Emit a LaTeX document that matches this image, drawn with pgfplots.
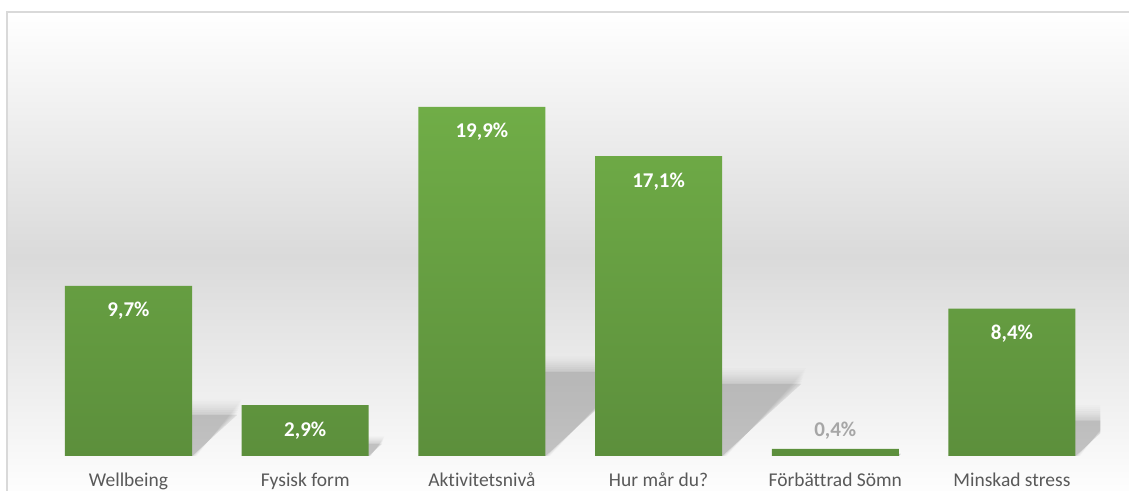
\documentclass[border=0pt]{standalone}
\usepackage{pgfplots}
\pgfplotsset{compat=1.18}
\usepackage{pgfplotstable}
\usepackage{fontspec}
\setmainfont{Carlito}[Ligatures={NoCommon}]
\definecolor{barTop}{HTML}{70AD47}
\definecolor{barBot}{HTML}{5C8F3C}
\definecolor{lblGray}{HTML}{595959}
\definecolor{valGray}{HTML}{A6A6A6}
\definecolor{frameGray}{HTML}{D9D9D9}
\definecolor{bgMid}{HTML}{DADADA}

\pgfplotstableread{
x y
0 9.7
1 2.9
2 19.9
3 17.1
4 0.4
5 8.4
}\datatable

\newcommand\vallabel[1]{\pgfmathprintnumber[fixed,precision=1,fixed zerofill,use comma,assume math mode=true]{#1}\%}

\begin{document}
\begin{tikzpicture}[x=1bp,y=1bp]
\shade[top color=white, bottom color=white, middle color=bgMid] (7,-10) rectangle (1140,479);
\draw[frameGray, line width=1.5bp] (7,-10) -- (7,479) -- (1140,479);
\begin{axis}[
  at={(40.15bp,35bp)}, anchor=south west,
  scale only axis, width=1060.2bp, height=438.5bp,
  xmin=-0.5, xmax=5.5, ymin=0, ymax=25,
  axis line style={draw=none},
  major tick length=0pt,
  ytick=\empty,
  xtick=data,
  xticklabels={Wellbeing, Fysisk form, Aktivitetsnivå, Hur mår du?, Förbättrad Sömn, Minskad stress},
  xticklabel style={anchor=base, yshift=-31bp, inner sep=0pt, font=\fontsize{19.5bp}{23bp}\selectfont, text=lblGray},
]
\pgfplotsinvokeforeach{0,...,5}{
  \pgfplotsextra{%
    \pgfplotstablegetelem{#1}{y}\of\datatable
    \let\vv\pgfplotsretval
    \pgfmathsetmacro\pxA{#1-0.3595}
    \pgfmathsetmacro\sc{min(1,\vv/6)}
    \foreach \g/\op in {0.9/0.012, 0.78/0.014, 0.66/0.016, 0.54/0.018, 0.42/0.02, 0.3/0.022, 0.18/0.024, 0.06/0.026, 0/0.07}{
      \pgfmathsetmacro\gg{\g*\sc}
      \pgfmathsetmacro\shA{0.24*\vv+\gg}
      \pgfmathsetmacro\pxC{#1+0.3595+0.0262*\vv+0.03*\gg}
      \pgfmathsetmacro\pxD{#1-0.3595+0.0262*\vv}
      \pgfmathsetmacro\pxF{#1+0.3595+0.03*\gg}
      \fill[black, opacity=\op] (axis cs:\pxA,0) -- (axis cs:\pxF,0) -- (axis cs:\pxC,\shA) -- (axis cs:\pxD,\shA) -- cycle;
    }
  }
}
\addplot[ybar, bar width=0.719, draw=none, top color=barTop, bottom color=barBot,
  visualization depends on={rawy \as \rawy},
  nodes near coords={\ifdim\rawy pt<1pt\relax\smash{\raisebox{12bp}{\textcolor{valGray}{\vallabel{\rawy}}}}\else\smash{\raisebox{-31bp}{\textcolor{white}{\vallabel{\rawy}}}}\fi},
  every node near coord/.append style={anchor=base, inner sep=0pt, font=\fontsize{21bp}{24bp}\selectfont\bfseries},
] table[x=x, y=y] {\datatable};
\end{axis}
\pgfresetboundingbox
\useasboundingbox (0,0) rectangle (1129,491);
\end{tikzpicture}
\end{document}
